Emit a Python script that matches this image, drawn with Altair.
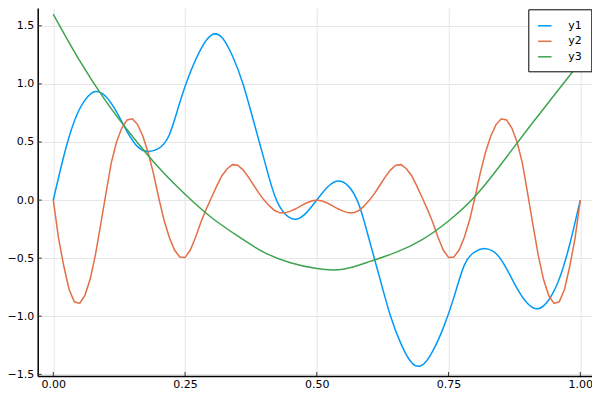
import altair as alt
import pandas as pd

# ---------------- data ----------------
series_names = ["y1", "y2", "y3"]
series_colors = ["#009AFA", "#E36F47", "#3EA44E"]

x_ticks = [0.0, 0.25, 0.5, 0.75, 1.0]
y_ticks = [-1.5, -1.0, -0.5, 0.0, 0.5, 1.0, 1.5]

# y1 sampled every 0.02
x1 = [i / 50 for i in range(51)]
y1 = [0.0, 0.38, 0.68, 0.86, 0.935, 0.89, 0.76, 0.59, 0.46, 0.418,
      0.445, 0.56, 0.84, 1.10, 1.30, 1.42, 1.40, 1.24, 1.00, 0.68,
      0.35, 0.04, -0.12, -0.165, -0.11, 0.0,
      0.11, 0.165, 0.12, -0.04, -0.35, -0.68, -1.00, -1.24, -1.40, -1.42,
      -1.30, -1.10, -0.84, -0.56, -0.445, -0.418, -0.46, -0.59, -0.76, -0.89,
      -0.935, -0.86, -0.68, -0.38, 0.0]

# y2 sampled every 0.01
x2 = [i / 100 for i in range(101)]
y2 = [0.0, -0.33, -0.57, -0.77, -0.876, -0.89, -0.82, -0.68, -0.47, -0.21,
      0.06, 0.32, 0.50, 0.62, 0.69, 0.70, 0.65, 0.55, 0.41, 0.23,
      0.02, -0.17, -0.32, -0.43, -0.49, -0.495, -0.43, -0.32, -0.19, -0.08,
      0.02, 0.12, 0.21, 0.27, 0.305, 0.30, 0.26, 0.20, 0.13, 0.06,
      0.0, -0.05, -0.09, -0.11, -0.11, -0.095, -0.075, -0.05, -0.025, -0.008,
      0.0,
      -0.008, -0.025, -0.05, -0.075, -0.095, -0.11, -0.11, -0.09, -0.05, 0.0,
      0.06, 0.13, 0.20, 0.26, 0.30, 0.305, 0.27, 0.21, 0.12, 0.02,
      -0.08, -0.19, -0.32, -0.43, -0.495, -0.49, -0.43, -0.32, -0.17, 0.02,
      0.23, 0.41, 0.55, 0.65, 0.70, 0.69, 0.62, 0.50, 0.32, 0.06,
      -0.21, -0.47, -0.68, -0.82, -0.89, -0.876, -0.77, -0.57, -0.33, 0.0]

# y3 sampled every 0.05
x3 = [i / 20 for i in range(21)]
y3 = [1.60, 1.20, 0.85, 0.55, 0.28, 0.05, -0.15, -0.31, -0.45, -0.54,
      -0.59, -0.595, -0.53, -0.45, -0.34, -0.18, 0.03, 0.31, 0.61, 0.90,
      1.19]

# ---------------- layout ----------------
W, H = 554.3, 368
xdom = [-0.0296, 1.0222]
ydom = [-1.5145, 1.6536]
FONT = "DejaVu Sans"

df1 = pd.DataFrame({"x": x1, "y": y1, "series": series_names[0]})
df2 = pd.DataFrame({"x": x2, "y": y2, "series": series_names[1]})
df3 = pd.DataFrame({"x": x3, "y": y3, "series": series_names[2]})

xs = alt.X("x:Q", scale=alt.Scale(domain=xdom, nice=False, zero=False),
           axis=alt.Axis(values=x_ticks, format=".2f", title=None, labelPadding=2.5))
ys = alt.Y("y:Q", scale=alt.Scale(domain=ydom, nice=False, zero=False),
           axis=alt.Axis(values=y_ticks, format=".1f", title=None, labelPadding=4))

color = alt.Color(
    "series:N",
    scale=alt.Scale(domain=series_names, range=series_colors),
    legend=alt.Legend(
        title=None, orient="none", legendX=490.6, legendY=1.3,
        strokeColor="black", fillColor="white", padding=9, rowPadding=2.5,
        symbolType="stroke", symbolSize=180, symbolStrokeWidth=1.5,
        labelFont=FONT, labelFontSize=11, labelColor="black", labelOffset=16,
    ),
)

tick_y = alt.Chart(pd.DataFrame({"y": y_ticks})).mark_rule(
    color="#333333", strokeWidth=1).encode(y=ys, x=alt.value(0), x2=alt.value(4))
tick_x = alt.Chart(pd.DataFrame({"x": x_ticks})).mark_rule(
    color="#333333", strokeWidth=1).encode(x=xs, y=alt.value(H), y2=alt.value(H - 4))

l1 = alt.Chart(df1).mark_line(strokeWidth=1.5, interpolate="natural").encode(x=xs, y=ys, color=color)
l2 = alt.Chart(df2).mark_line(strokeWidth=1.5, interpolate="linear").encode(x=xs, y=ys, color=color)
l3 = alt.Chart(df3).mark_line(strokeWidth=1.5, interpolate="natural").encode(x=xs, y=ys, color=color)

chart = (
    alt.layer(tick_y, tick_x, l1, l2, l3)
    .properties(width=W, height=H,
                padding={"left": 29.7, "top": 0, "right": 0, "bottom": 16},
                autosize=alt.AutoSizeParams(type="none"))
    .configure_view(stroke=None)
    .configure_axis(
        domainColor="black", domainWidth=1.5, ticks=False,
        gridColor="#e6e6e6", gridWidth=1,
        labelFont=FONT, labelFontSize=11, labelColor="black",
    )
)

chart.save("out.html", embed_options={"renderer": "svg", "actions": False})
